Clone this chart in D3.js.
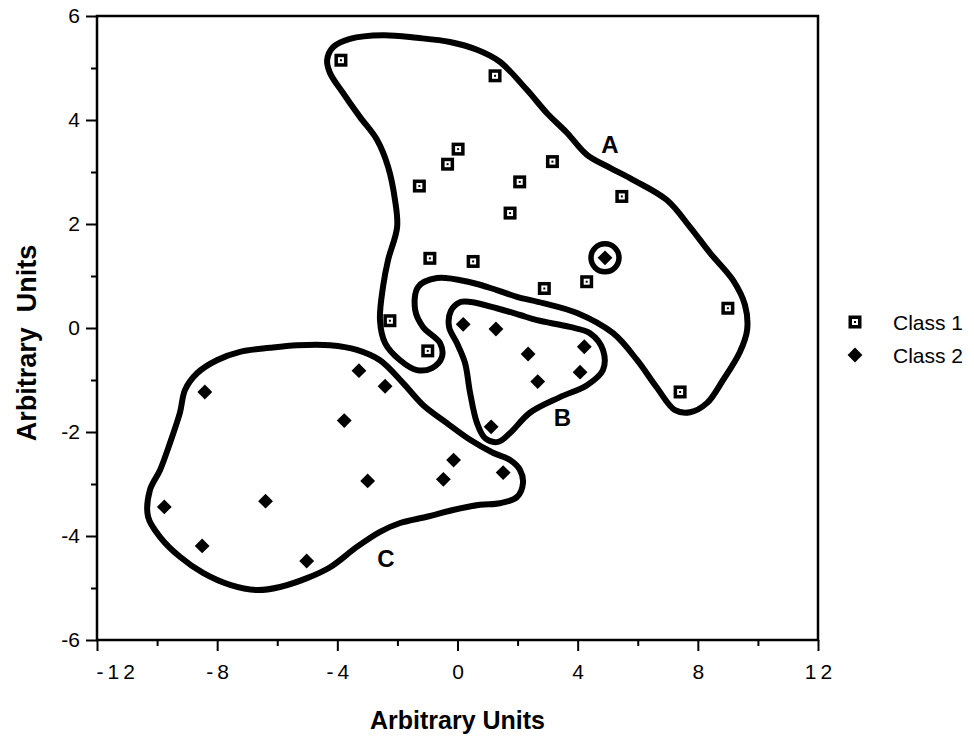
<!DOCTYPE html>
<html>
<head>
<meta charset="utf-8">
<script src="https://cdn.jsdelivr.net/npm/d3@7"></script>
<style>
  body { margin: 0; background: #fff; }
  svg { display: block; }
  text { font-family: Arial, "Liberation Sans", Helvetica, sans-serif; fill: #000; }
</style>
</head>
<body>
<svg id="chart" width="974" height="738"></svg>
<script>
// Axis ticks
const xTicks = [-12, -8, -4, 0, 4, 8, 12];
const xMinorTicks = [-10, -6, -2, 2, 6, 10];
const yTicks = [-6, -4, -2, 0, 2, 4, 6];
const yMinorTicks = [-5, -3, -1, 1, 3, 5];

// Class 1 samples [x, y]
const class1 = [
  [-3.88, 5.15], [1.25, 4.85], [0.02, 3.44], [-0.33, 3.15], [-1.27, 2.73],
  [3.16, 3.20], [2.07, 2.81], [1.75, 2.21], [5.47, 2.53], [-0.92, 1.34],
  [0.52, 1.28], [2.89, 0.76], [4.30, 0.89], [-2.25, 0.14], [-0.99, -0.44],
  [9.00, 0.38], [7.41, -1.23]
];

// Class 2 samples [x, y]
const class2 = [
  [4.91, 1.35], [0.19, 0.07], [1.28, -0.02], [2.35, -0.50], [4.22, -0.36],
  [4.08, -0.85], [2.67, -1.03], [1.12, -1.90], [-3.28, -0.82], [-2.41, -1.12],
  [-3.77, -1.78], [-0.13, -2.54], [1.52, -2.78], [-0.47, -2.91], [-2.99, -2.94],
  [-5.02, -4.48], [-8.41, -1.23], [-9.76, -3.44], [-6.39, -3.33], [-8.50, -4.19]
];

// Class 2 sample enclosed by its own small boundary inside region A
const isolated = [[4.91, 1.35]];

// Region boundaries [x, y]
const regionA = [
  [-4.34, 5.15], [-4.14, 5.40], [-3.58, 5.56], [-2.48, 5.63], [-1.35, 5.58],
  [-0.25, 5.50], [0.65, 5.35], [1.41, 5.12], [2.31, 4.58], [2.98, 4.13],
  [3.65, 3.75], [4.31, 3.33], [5.08, 3.08], [5.84, 2.85], [6.97, 2.46],
  [7.74, 1.94], [8.41, 1.44], [9.17, 0.92], [9.57, 0.44], [9.64, -0.04],
  [9.40, -0.46], [8.84, -1.00], [8.31, -1.44], [7.74, -1.62], [7.24, -1.58],
  [6.64, -1.15], [5.98, -0.62], [5.18, -0.10], [3.98, 0.29], [2.85, 0.48],
  [1.98, 0.60], [1.31, 0.73], [0.42, 0.88], [-0.68, 0.96], [-1.31, 0.79],
  [-1.41, 0.35], [-1.15, 0.02], [-0.58, -0.29], [-0.52, -0.56], [-0.85, -0.77],
  [-1.35, -0.81], [-1.91, -0.62], [-2.41, -0.29], [-2.58, 0.15], [-2.48, 0.79],
  [-2.31, 1.31], [-2.01, 1.94], [-2.08, 2.46], [-2.31, 3.10], [-2.68, 3.62],
  [-3.25, 4.06], [-3.81, 4.52], [-4.24, 4.90]
];

const regionB = [
  [-0.28, 0.02], [-0.22, 0.33], [0.10, 0.50], [0.45, 0.50], [1.31, 0.38],
  [2.08, 0.25], [2.65, 0.15], [3.74, 0.02], [4.41, -0.10], [4.84, -0.42],
  [4.84, -0.81], [4.31, -1.10], [3.41, -1.33], [2.41, -1.63], [1.75, -2.02],
  [1.35, -2.19], [0.92, -2.12], [0.65, -1.83], [0.42, -1.25], [0.25, -0.67],
  [-0.02, -0.29]
];

const regionC = [
  [-8.67, -0.87], [-8.01, -0.62], [-7.24, -0.46], [-6.24, -0.38], [-5.34, -0.33],
  [-4.24, -0.33], [-3.35, -0.42], [-2.58, -0.62], [-1.81, -1.06], [-1.15, -1.48],
  [-0.35, -1.83], [0.42, -2.15], [1.18, -2.40], [1.75, -2.54], [2.08, -2.73],
  [2.18, -2.98], [1.98, -3.25], [1.41, -3.37], [0.75, -3.40], [-0.15, -3.50],
  [-1.02, -3.63], [-1.91, -3.75], [-2.58, -3.92], [-3.35, -4.21], [-4.24, -4.60],
  [-5.01, -4.81], [-5.91, -4.98], [-6.67, -5.04], [-7.57, -4.94], [-8.47, -4.71],
  [-9.24, -4.40], [-9.90, -4.02], [-10.30, -3.63], [-10.24, -3.12], [-9.90, -2.73],
  [-9.57, -2.21], [-9.24, -1.63], [-9.07, -1.19]
];

const regionNames = ["A", "B", "C"];
const regionLabelPos = [[5.07, 3.52], [3.49, -1.73], [-2.38, -4.44]];

const legendNames = ["Class 1", "Class 2"];
const axisTitle = "Arbitrary Units";
const yAxisTitle = "Arbitrary\u00a0 Units";

// Layout
const svg = d3.select("#chart");
const plot = { left: 97, right: 818, top: 16, bottom: 640 };

const x = d3.scaleLinear().domain([-12, 12]).range([plot.left, plot.right]);
const y = d3.scaleLinear().domain([-6, 6]).range([plot.bottom, plot.top]);

// Frame
svg.append("rect")
  .attr("x", plot.left).attr("y", plot.top)
  .attr("width", plot.right - plot.left).attr("height", plot.bottom - plot.top)
  .attr("fill", "none").attr("stroke", "#000").attr("stroke-width", 2.5);

// Y axis: major and minor ticks
const yMajor = svg.append("g").attr("transform", `translate(${plot.left},0)`)
  .call(d3.axisLeft(y).tickValues(yTicks).tickSize(11).tickPadding(6)
    .tickFormat(d => d < 0 ? "-" + Math.abs(d) : d));
const yMinor = svg.append("g").attr("transform", `translate(${plot.left},0)`)
  .call(d3.axisLeft(y).tickValues(yMinorTicks).tickSize(6).tickFormat(""));

// X axis: major and minor ticks
const xMajor = svg.append("g").attr("transform", `translate(0,${plot.bottom})`)
  .call(d3.axisBottom(x).tickValues(xTicks).tickSize(11).tickPadding(13)
    .tickFormat(d => d < 0 ? "-" + Math.abs(d) : d));
const xMinor = svg.append("g").attr("transform", `translate(0,${plot.bottom})`)
  .call(d3.axisBottom(x).tickValues(xMinorTicks).tickSize(6).tickFormat(""));

[yMajor, yMinor, xMajor, xMinor].forEach(g => {
  g.select(".domain").remove();
  g.selectAll(".tick line").attr("stroke", "#000").attr("stroke-width", 2);
  g.selectAll(".tick text")
    .style("font-family", "Arial, 'Liberation Sans', sans-serif")
    .attr("fill", "#000");
});
yMajor.selectAll(".tick text").style("font-size", "21px");
xMajor.selectAll(".tick text").style("font-size", "21px").style("letter-spacing", "4px")
  .attr("dx", "2px");
// The leftmost label sits inside the frame edge rather than centred on it
xMajor.selectAll(".tick text").filter(d => d === xTicks[0])
  .attr("text-anchor", "start").attr("dx", "-1px");

// Axis titles
svg.append("text")
  .attr("x", (plot.left + plot.right) / 2).attr("y", 729)
  .attr("text-anchor", "middle")
  .style("font-size", "25px").style("font-weight", "bold")
  .text(axisTitle);

svg.append("text")
  .attr("transform", `translate(36,${(plot.top + plot.bottom) / 2 + 15}) rotate(-90)`)
  .attr("text-anchor", "middle")
  .style("font-size", "27px").style("font-weight", "bold")
  .text(yAxisTitle);

// Region boundaries
const outline = d3.line()
  .x(d => x(d[0])).y(d => y(d[1]))
  .curve(d3.curveCatmullRomClosed.alpha(0.5));

svg.append("g").selectAll("path")
  .data([regionA, regionB, regionC])
  .join("path")
  .attr("d", outline)
  .attr("fill", "none")
  .attr("stroke", "#000")
  .attr("stroke-width", 6)
  .attr("stroke-linejoin", "round");

svg.append("g").selectAll("circle")
  .data(isolated)
  .join("circle")
  .attr("cx", d => x(d[0])).attr("cy", d => y(d[1]))
  .attr("r", 14)
  .attr("fill", "none").attr("stroke", "#000").attr("stroke-width", 5.5);

// Region names
svg.append("g").selectAll("text")
  .data(regionNames)
  .join("text")
  .attr("x", (d, i) => x(regionLabelPos[i][0]))
  .attr("y", (d, i) => y(regionLabelPos[i][1]))
  .attr("text-anchor", "middle")
  .attr("dominant-baseline", "central")
  .style("font-size", "24px").style("font-weight", "bold")
  .text(d => d);

// Markers
function squareMarker(g) {
  g.append("rect").attr("x", -6.5).attr("y", -6.5).attr("width", 13).attr("height", 13).attr("fill", "#000");
  g.append("rect").attr("x", -3).attr("y", -3).attr("width", 6).attr("height", 6).attr("fill", "#fff");
  g.append("rect").attr("x", -1).attr("y", -1).attr("width", 2).attr("height", 2).attr("fill", "#000");
}
const diamond = d3.symbol(d3.symbolSquare, 110)();

svg.append("g").selectAll("g")
  .data(class1)
  .join("g")
  .attr("transform", d => `translate(${x(d[0])},${y(d[1])})`)
  .each(function () { squareMarker(d3.select(this)); });

svg.append("g").selectAll("path")
  .data(class2)
  .join("path")
  .attr("transform", d => `translate(${x(d[0])},${y(d[1])}) rotate(45)`)
  .attr("d", diamond)
  .attr("fill", "#000");

// Legend
const legend = svg.append("g").attr("transform", "translate(855,322)");
legend.append("g").call(squareMarker);
legend.append("path").attr("transform", "translate(0,33) rotate(45)").attr("d", diamond).attr("fill", "#000");
legend.selectAll("text")
  .data(legendNames)
  .join("text")
  .attr("x", 38)
  .attr("y", (d, i) => i * 33)
  .attr("dominant-baseline", "central")
  .style("font-size", "21px")
  .text(d => d);
</script>
</body>
</html>
